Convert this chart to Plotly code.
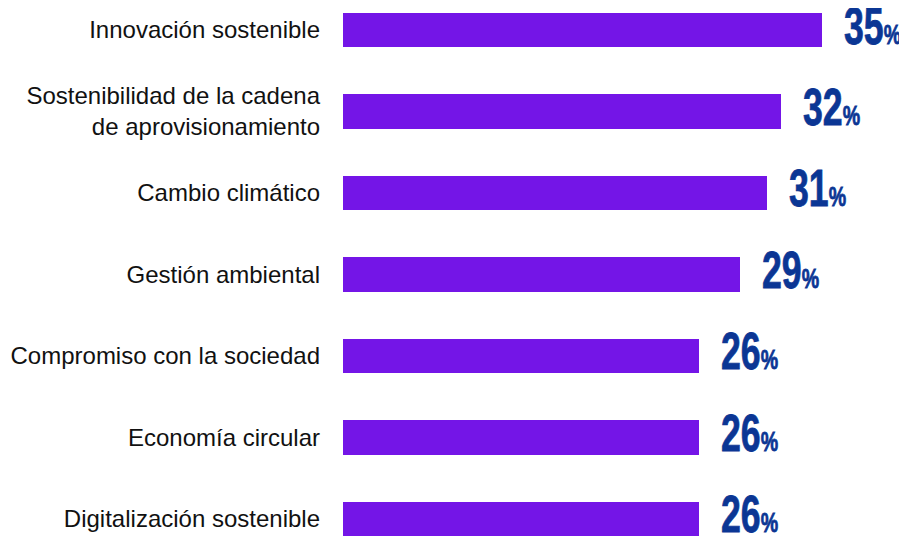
import plotly.graph_objects as go

categories = [
    "Innovación sostenible",
    "Sostenibilidad de la cadena<br>de aprovisionamiento",
    "Cambio climático",
    "Gestión ambiental",
    "Compromiso con la sociedad",
    "Economía circular",
    "Digitalización sostenible",
]
values = [35, 32, 31, 29, 26, 26, 26]

BAR_COLOR = "#7415E7"
NUM_COLOR = "#0B3694"

fig = go.Figure()
fig.add_trace(go.Bar(
    x=values,
    y=categories,
    orientation="h",
    marker=dict(color=BAR_COLOR, line=dict(width=0)),
    width=0.42,
    hoverinfo="skip",
))

for c, v in zip(categories, values):
    fig.add_annotation(
        x=v, y=c, xref="x", yref="y",
        xanchor="left", yanchor="middle",
        xshift=20, yshift=4,
        showarrow=False,
        text=f"<b>{v}</b><span style='font-size:28px'><b>%</b></span>",
        font=dict(family="Liberation Sans, Arial, sans-serif", size=51, color=NUM_COLOR),
    )

fig.update_layout(
    width=899, height=532,
    margin=dict(l=335, r=0, t=0, b=0),
    paper_bgcolor="white",
    plot_bgcolor="white",
    showlegend=False,
    bargap=0,
    xaxis=dict(range=[0, 41.2], visible=False, showgrid=False, zeroline=False),
    yaxis=dict(
        range=[6.258, -0.27],
        showgrid=False, zeroline=False, showline=False,
        ticks="", ticklabelstandoff=22,
        tickfont=dict(family="Liberation Sans, Arial, sans-serif", size=24, color="#111111"),
    ),
)

post = """
document.querySelectorAll('.annotation-text').forEach(function(t){
  var b = t.getBBox();
  var x0 = b.x;
  t.setAttribute('transform', 'translate(' + x0 + ',0) scale(0.7,1) translate(' + (-x0) + ',0)');
  t.setAttribute('stroke', '#0B3694');
  t.setAttribute('stroke-width', '0.8');
});
"""

fig.write_html("out.html", post_script=post)
